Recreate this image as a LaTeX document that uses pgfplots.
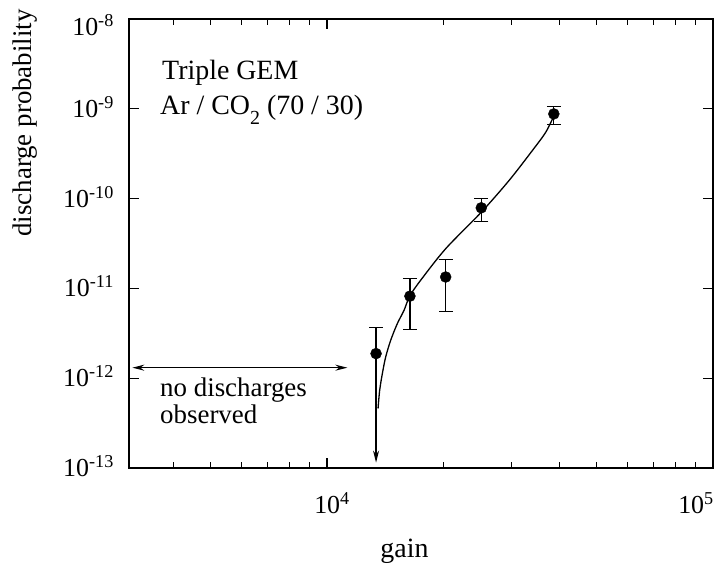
\documentclass[border=0pt]{standalone}
\usepackage{pgfplots}
\pgfplotsset{compat=1.18}
\usepackage{fontspec}
\setmainfont{Liberation Serif}
\usetikzlibrary{arrows.meta}
\begin{document}
\begin{tikzpicture}
\useasboundingbox (-129bp,-97bp) rectangle (589bp,468bp);
\begin{axis}[
  at={(0,0)}, anchor=south west, scale only axis,
  width=584bp, height=449bp,
  xmode=log, ymode=log,
  xmin=3070, xmax=1e5, ymin=1e-13, ymax=1e-8,
  axis line style={line width=1.6bp},
  tick style={line width=1.3bp, black},
  major tick length=10bp, minor tick length=6bp,
  tick align=inside, tick pos=both,
  yminorticks=false,
  xtick={1e4,1e5},
  minor xtick={4000,5000,6000,7000,8000,9000,20000,30000,40000,50000,60000,70000,80000,90000},
  xticklabels={10\textsuperscript{4}, \hspace*{-44bp}10\textsuperscript{5}},
  ytick={1e-13,1e-12,1e-11,1e-10,1e-9,1e-8},
  yticklabels={10\textsuperscript{-13},10\textsuperscript{-12},10\textsuperscript{-11},10\textsuperscript{-10},10\textsuperscript{-9},\raisebox{-8bp}{10\textsuperscript{-8}}},
  tick label style={font=\fontsize{26}{30}\selectfont, inner sep=0pt},
  xticklabel style={anchor=base, yshift=-45bp, xshift=5bp},
  yticklabel style={anchor=base east, xshift=-15bp, yshift=-8.5bp},
  clip=false,
]
\addplot[black, line width=1.3bp, smooth, tension=0.5] coordinates {
(13560,4.6e-13) (13690,7.3e-13) (13910,1.12e-12) (14190,1.72e-12) (14620,2.64e-12)
(15210,4.05e-12) (15830,5.69e-12) (16380,8.2e-12) (17480,1.23e-11) (20300,2.77e-11)
(25100,7.06e-11) (29620,1.59e-10) (34040,3.43e-10) (36870,5.48e-10) (38730,8.4e-10)};

\addplot[black, line width=1.3bp, -{Stealth[length=12bp, width=6bp]}] coordinates {(13400,1.88e-12) (13400,1.15e-13)};

\addplot[only marks, mark=*, mark size=5.5bp, black,
  error bars/.cd, y dir=plus, y explicit,
  error mark options={rotate=90, mark size=7bp, line width=1.3bp},
  error bar style={line width=1.3bp}]
  table[x=x, y=y, y error plus=ep] {
x y ep
13400 1.88e-12 1.78e-12
};

\addplot[only marks, mark=*, mark size=5.5bp, black,
  error bars/.cd, y dir=both, y explicit,
  error mark options={rotate=90, mark size=7bp, line width=1.3bp},
  error bar style={line width=1.3bp}]
  table[x=x, y=y, y error plus=ep, y error minus=em] {
x y ep em
16400 8.2e-12 4.6e-12 4.73e-12
20300 1.34e-11 7.5e-12 7.82e-12
25100 7.9e-11 2.1e-11 2.34e-11
38700 8.77e-10 1.83e-10 2.1e-10
};

\draw[line width=1.3bp, {Stealth[length=12bp,width=6bp]}-{Stealth[length=12bp,width=6bp]}] (axis cs:3131,1.31e-12) -- (axis cs:11290,1.31e-12);
\end{axis}
\begin{scope}[every node/.style={inner sep=0pt, font=\fontsize{28}{33}\selectfont}]
\node[anchor=base west] at (33bp,388bp) {Triple GEM};
\node[anchor=base west] at (31bp,353bp) {Ar / CO\raisebox{-10bp}{\fontsize{20}{24}\selectfont 2} (70 / 30)};
\node[anchor=base west, font=\fontsize{27}{32}\selectfont] at (31bp,71.5bp) {no discharges};
\node[anchor=base west, font=\fontsize{27}{32}\selectfont] at (31bp,44bp) {observed};
\node[anchor=base] at (275.5bp,-89bp) {gain};
\node[anchor=base, rotate=90, font=\fontsize{27}{32}\selectfont] at (-97bp,345bp) {discharge probability};
\end{scope}
\end{tikzpicture}
\end{document}
